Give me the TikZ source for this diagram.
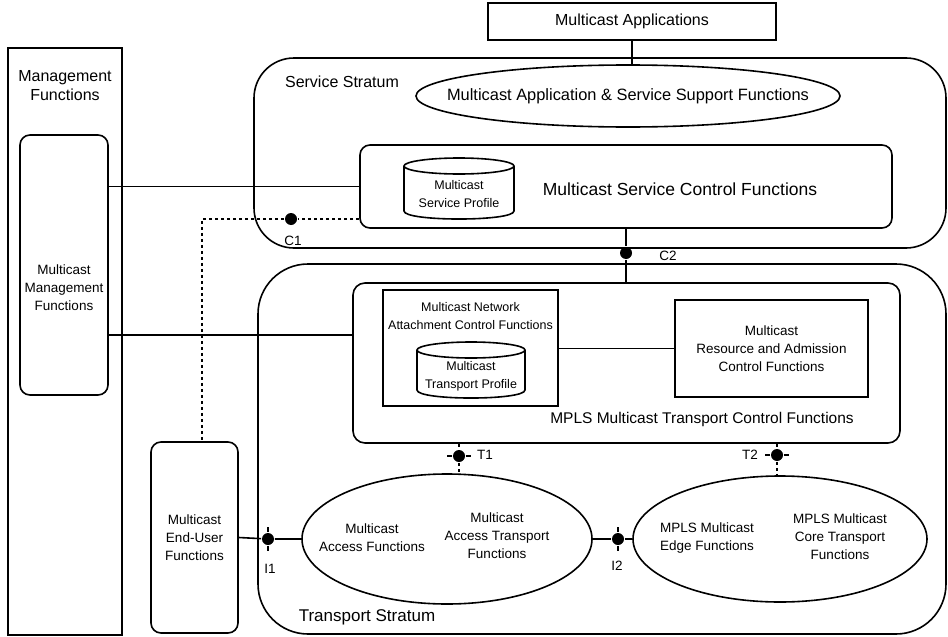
\documentclass[tikz,border=0pt]{standalone}
\usepackage{fontspec}
\setmainfont{Liberation Sans}
\usetikzlibrary{shapes.geometric,positioning}

\begin{document}
\begin{tikzpicture}[x=1pt,y=-1pt,line width=1.6pt,
		box/.style={draw,rectangle,inner sep=0pt},
		rbox/.style={box,rounded corners=#1},rbox/.default=10pt,
		oval/.style={draw,ellipse,inner sep=0pt},
		pt/.style={circle,fill,inner sep=0pt,minimum size=12pt},
		dotline/.style={dash pattern=on 3pt off 3pt},
		bigtxt/.style={font=\fontsize{16}{19}\selectfont,align=center},
		smltxt/.style={font=\fontsize{13.5}{18}\selectfont,align=center},
		tnytxt/.style={font=\fontsize{12.5}{18}\selectfont,align=center}]
		\useasboundingbox (0,0) rectangle (948,637);
		% strata
		\node[rbox=40pt,minimum width=692pt,minimum height=190pt] (svcstr) at (600,153) {};
		\node[rbox=50pt,minimum width=688pt,minimum height=370pt] (trstr) at (602,449) {};
		\node[bigtxt] (svclbl) at (342,82) {Service Stratum};
		\node[font=\fontsize{17}{20}\selectfont] (trlbl) at (367,617) {Transport Stratum};
		% management
		\node[box,minimum width=114pt,minimum height=587pt] (mgmtout) at (65,341.5) {};
		\node[bigtxt] (mgmtlbl) at (65,86) {Management\\Functions};
		\node[rbox,minimum width=88pt,minimum height=260pt] (mgmt) at (64,265) {};
		\node[smltxt] (mgmttxt) at (64,288) {Multicast\\Management\\Functions};
		% service stratum
		\node[box,bigtxt,minimum width=288pt,minimum height=37pt] (apps) at (632,21.5) {Multicast Applications};
		\node[oval,minimum width=424pt,minimum height=62pt] (asf) at (628,96) {};
		\node[font=\fontsize{16.4}{19}\selectfont] (asftxt) at (628,96) {Multicast Application \& Service Support Functions};
		\node[rbox,minimum width=532pt,minimum height=83pt] (svcctl) at (626,186.5) {};
		\node[font=\fontsize{17.5}{20}\selectfont] (svctxt) at (680,189) {Multicast Service Control Functions};
		\draw (459,166) ellipse [x radius=55,y radius=8];
		\draw (404,166) -- (404,211) .. controls (404,221.7) and (514,221.7) .. (514,211) -- (514,166);
		\node[tnytxt] (svcprof) at (459,194) {Multicast\\Service Profile};
		% transport control
		\node[rbox=12pt,minimum width=547pt,minimum height=160pt] (mctrl) at (626.5,363) {};
		\node[font=\fontsize{15.5}{18}\selectfont] (mctrltxt) at (702,419) {MPLS Multicast Transport Control Functions};
		\node[box,minimum width=175pt,minimum height=116pt] (nacf) at (470.5,348) {};
		\node[tnytxt] (nacftxt) at (470.5,316) {Multicast Network\\Attachment Control Functions};
		\draw (471,350) ellipse [x radius=54,y radius=8];
		\draw (417,350) -- (417,390) .. controls (417,400.7) and (525,400.7) .. (525,390) -- (525,350);
		\node[tnytxt] (trprof) at (471,376) {Multicast\\Transport Profile};
		\node[box,smltxt,minimum width=193pt,minimum height=97pt] (racf) at (771.5,348.5) {Multicast\\Resource and Admission\\Control Functions};
		% transport functions
		\node[oval,minimum width=290pt,minimum height=130pt] (acc) at (447,539) {};
		\node[smltxt] (acctxt) at (372,538) {Multicast\\Access Functions};
		\node[smltxt] (acttxt) at (497,536) {Multicast\\Access Transport\\Functions};
		\node[oval,minimum width=294pt,minimum height=126pt] (core) at (780,539) {};
		\node[smltxt] (edgetxt) at (707,538) {MPLS Multicast\\Edge Functions};
		\node[smltxt] (coretxt) at (840,537) {MPLS Multicast\\Core Transport\\Functions};
		\node[rbox,smltxt,minimum width=87pt,minimum height=191pt] (eu) at (194.5,537.5) {Multicast\\End-User\\Functions};
		% reference points
		\node[pt] (c1) at (291,219) {};
		\node[pt] (c2) at (626,253) {};
		\node[pt] (t1) at (459,456) {};
		\node[pt] (t2) at (777,455) {};
		\node[pt] (i1) at (268,539) {};
		\node[pt] (i2) at (618,539) {};
		\node[smltxt] at (293,241) {C1};
		\node[smltxt] at (668,256) {C2};
		\node[smltxt] at (485,455) {T1};
		\node[smltxt] at (750,455) {T2};
		\node[smltxt] at (270,569) {I1};
		\node[smltxt] at (617,566) {I2};
		\coordinate (c1bend) at (202,219);
		% connectors
		\draw (apps.south) -- (apps.south |- asf.north);
		\draw (mgmt.east |- svcctl.west) -- (svcctl.west);
		\draw (mgmt.east |- 0,335) -- (mctrl.west |- 0,335);
		\draw[dotline] (svcctl.west |- c1) -- (c1) -- (c1bend) -- (c1bend |- eu.north);
		\draw (svcctl.south -| c2) -- (c2) -- (c2 |- mctrl.north);
		\draw (nacf.east |- racf.west) -- (racf.west);
		\draw[dotline] (mctrl.south -| t1) -- (t1) -- (t1 |- acc.north);
		\draw[dotline] (mctrl.south -| t2) -- (t2) -- (t2 |- core.north);
		\draw (eu.east) -- (i1) -- (acc.west);
		\draw (acc.east) -- (i2) -- (core.west);
		\foreach \p in {t1,t2} \draw (\p.west) -- ++(-5,0) (\p.east) -- ++(5,0);
		\foreach \p in {i1,i2} \draw (\p.north) -- ++(0,-5) (\p.south) -- ++(0,5);
\end{tikzpicture}
\end{document}
